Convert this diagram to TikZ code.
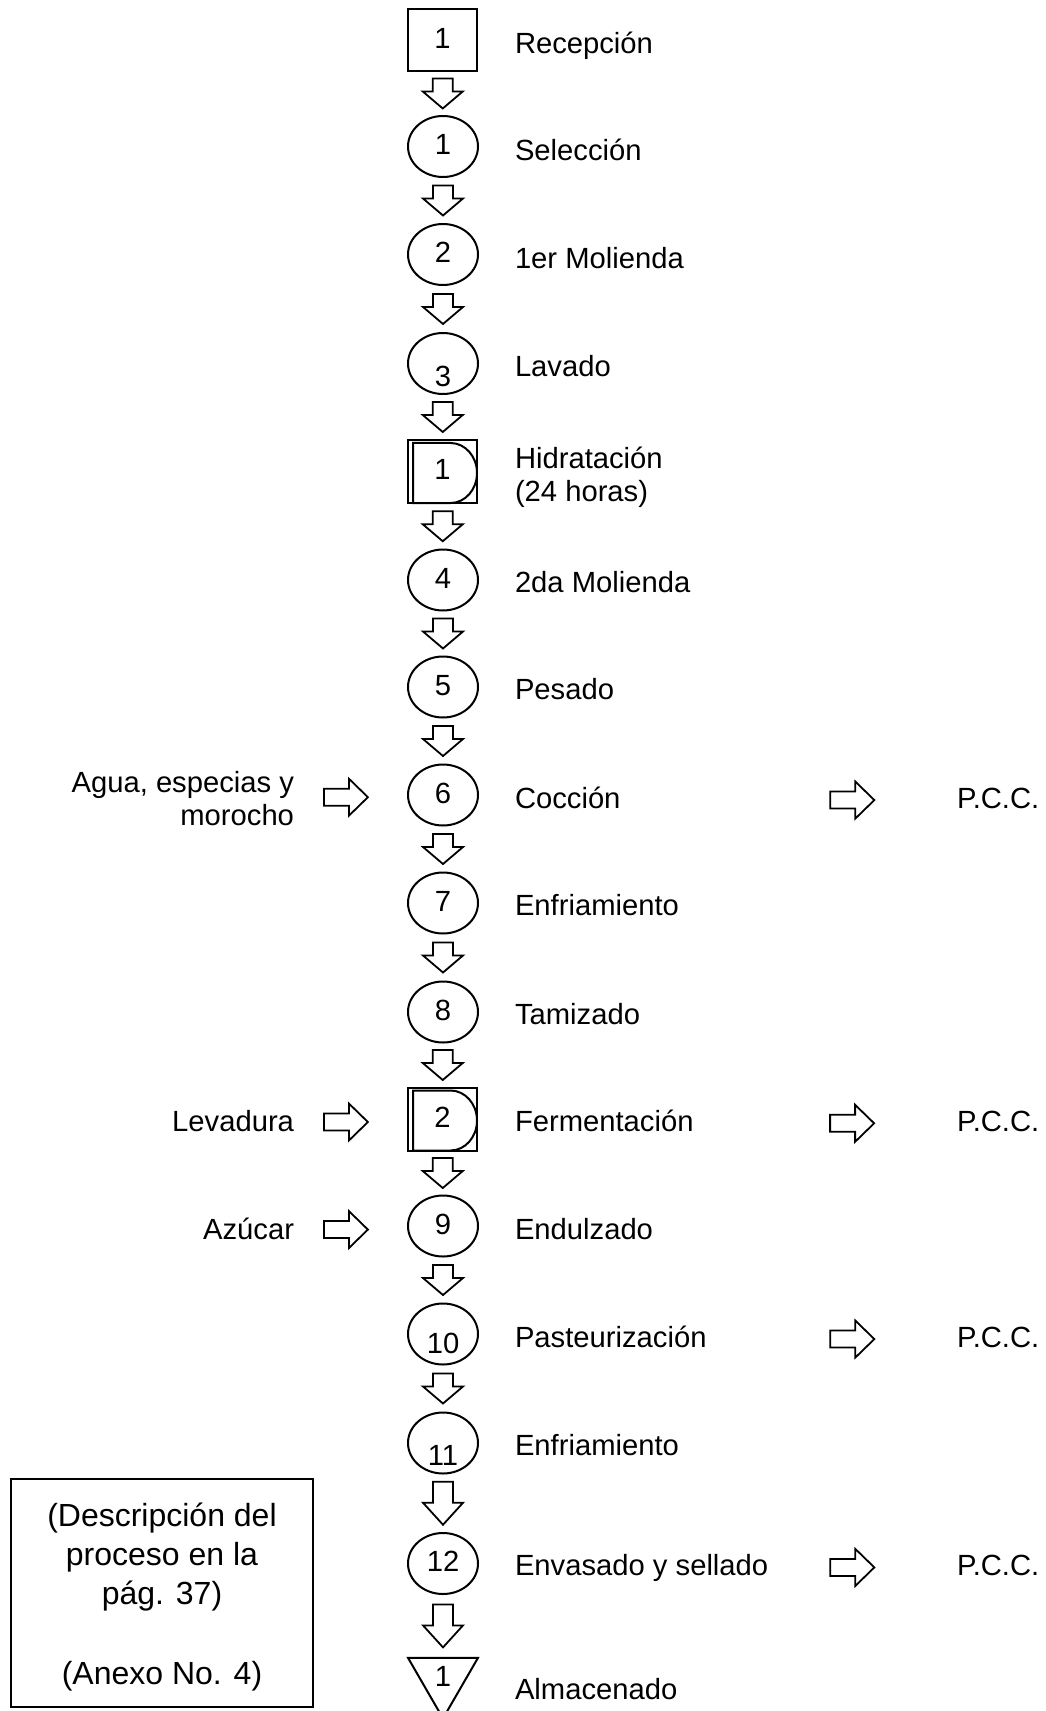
\documentclass[tikz,border=0pt]{standalone}
\usepackage{fontspec}
\setmainfont{Liberation Sans}
\usetikzlibrary{shapes.geometric,calc}
\newcommand\mainfnt{\fontsize{14.6pt}{16.5pt}\selectfont}
\tikzset{
  lbl/.style={font=\mainfnt, inner sep=0pt, anchor=west, text height=0.716em, text depth=0pt},
  sidetxt/.style={font=\mainfnt, inner sep=0pt},
  numtxt/.style={font=\mainfnt, inner sep=0pt, text height=0.82em, text depth=0pt},
  opcircle/.style={numtxt, ellipse, draw, minimum width=35pt, minimum height=30.5pt},
  inspbox/.style={numtxt, rectangle, draw, minimum width=34.5pt, minimum height=31pt},
  delaybox/.style={numtxt, rectangle, draw, minimum width=34.5pt, minimum height=31.5pt},
  storetri/.style={numtxt, regular polygon, regular polygon sides=3, shape border rotate=180, draw, minimum size=40.4pt},
  blk/.style={draw, line width=0.9pt, line join=miter, fill=white},
  notebox/.style={draw, rectangle, minimum width=151pt, minimum height=114pt, align=center, inner sep=0pt, font=\fontsize{16pt}{19.5pt}\selectfont}
}
% vertical hollow arrow between two nodes: from, to, length, head length
\newcommand\vblk[4]{%
  \path ($(#1.south)!0.5!(#2.north)$) coordinate (vm);
  \draw[blk, shift={(vm)}] (-10,{-#3/2}) -- (10,{-#3/2}) -- (10,{#3/2-#4}) -- (20,{#3/2-#4})
     -- (0,{#3/2}) -- (-20,{#3/2-#4}) -- (-10,{#3/2-#4}) -- cycle;}
% horizontal hollow arrow between two nodes: from, to, fraction
\newcommand\hblk[3]{%
  \path ($(#1.east)!#3!(#2.west)$) coordinate (hm);
  \draw[blk, shift={(hm)}] (-21.5,-8.5) -- (3.5,-8.5) -- (3.5,-18.5) -- (22.5,0)
     -- (3.5,18.5) -- (3.5,8.5) -- (-21.5,8.5) -- cycle;}
% delay symbol interior
\newcommand\delayin[1]{%
  \draw[shift={(#1.center)}] (-29.5,-28.5) -- (8,-28.5)
     arc[start angle=-90, end angle=90, x radius=26.5, y radius=30] -- (-29.5,31.5) -- cycle;}
\begin{document}
\begin{tikzpicture}[x=0.5pt, y=-0.5pt, line width=1pt]
\useasboundingbox (0,0) rectangle (1045,1711);

% process column
\node[inspbox]  (r1)  at (442.5,40)    {1};
\node[opcircle] (c1)  at (443,146.5)   {1};
\node[opcircle] (c2)  at (443,254.5)   {2};
\node[opcircle] (c3)  at (443,363.5)   {\raisebox{-7.3pt}{3}};
\node[delaybox] (d1)  at (442.5,471.5) {};
\delayin{d1}
\node[numtxt]   (d1n) at (d1.center)   {1};
\node[opcircle] (c4)  at (443,580)     {4};
\node[opcircle] (c5)  at (443,687)     {5};
\node[opcircle] (c6)  at (443,795)     {6};
\node[opcircle] (c7)  at (443,903)     {7};
\node[opcircle] (c8)  at (443,1012)    {8};
\node[delaybox] (d2)  at (442.5,1119)  {};
\delayin{d2}
\node[numtxt]   (d2n) at (d2.center)   {2};
\node[opcircle] (c9)  at (443,1226)    {9};
\node[opcircle] (c10) at (443,1334)    {\raisebox{-5.5pt}{10}};
\node[opcircle] (c11) at (443,1443)    {\raisebox{-7pt}{11}};
\node[opcircle] (c12) at (443,1563.5)  {12};
\node[storetri] (t1)  at (443,1678)    {1};

% labels
\node[lbl] (l1)  at (514,46.5)   {Recepción};
\node[lbl] (l2)  at (514,153.5)  {Selección};
\node[lbl] (l3)  at (514,261.5)  {1er Molienda};
\node[lbl] (l4)  at (514,369.5)  {Lavado};
\node[sidetxt, anchor=west, align=left] (l5) at (514,477) {Hidratación\\(24 horas)};
\node[lbl] (l6)  at (514,585.5)  {2da Molienda};
\node[lbl] (l7)  at (514,692.5)  {Pesado};
\node[lbl] (l8)  at (514,801.5)  {Cocción};
\node[lbl] (l9)  at (514,908.5)  {Enfriamiento};
\node[lbl] (l10) at (514,1017.5) {Tamizado};
\node[lbl] (l11) at (514,1124.5) {Fermentación};
\node[lbl] (l12) at (514,1232.5) {Endulzado};
\node[lbl] (l13) at (514,1340.5) {Pasteurización};
\node[lbl] (l14) at (514,1448.5) {Enfriamiento};
\node[lbl] (l15) at (514,1568.5) {Envasado y sellado};
\node[lbl] (l16) at (514,1692.5) {Almacenado};

% inputs
\node[sidetxt, anchor=east, align=right] (in1) at (295,799) {Agua, especias y\\morocho};
\node[lbl, anchor=east] (in2) at (295,1124.5) {Levadura};
\node[lbl, anchor=east] (in3) at (295,1232.5) {Azúcar};

% critical control points
\node[lbl] (p1) at (956,801.5)  {P.C.C.};
\node[lbl] (p2) at (956,1124.5) {P.C.C.};
\node[lbl] (p3) at (956,1340.5) {P.C.C.};
\node[lbl] (p4) at (956,1568.5) {P.C.C.};

% note box
\node[notebox] (note) at (162,1593) {\rule{0pt}{1.0em}(Descripción del\\proceso en la\\pág. 37)\\[20.6pt](Anexo No. 4)};

% vertical flow arrows
\vblk{r1}{c1}{30}{17}
\vblk{c1}{c2}{30}{17}
\vblk{c2}{c3}{30}{17}
\vblk{c3}{d1}{30}{17}
\vblk{d1}{c4}{30}{17}
\vblk{c4}{c5}{30}{17}
\vblk{c5}{c6}{30}{17}
\vblk{c6}{c7}{30}{17}
\vblk{c7}{c8}{30}{17}
\vblk{c8}{d2}{30}{17}
\vblk{d2}{c9}{30}{17}
\vblk{c9}{c10}{30}{17}
\vblk{c10}{c11}{30}{17}
\vblk{c11}{c12}{43}{22}
\vblk{c12}{t1}{43}{22}

% horizontal arrows
\hblk{in1}{c6}{0.45}
\hblk{in2}{d2}{0.45}
\hblk{in3}{c9}{0.45}
\hblk{c6}{p1}{0.7816}
\hblk{d2}{p2}{0.7816}
\hblk{c10}{p3}{0.7816}
\hblk{c12}{p4}{0.7816}
\end{tikzpicture}
\end{document}
